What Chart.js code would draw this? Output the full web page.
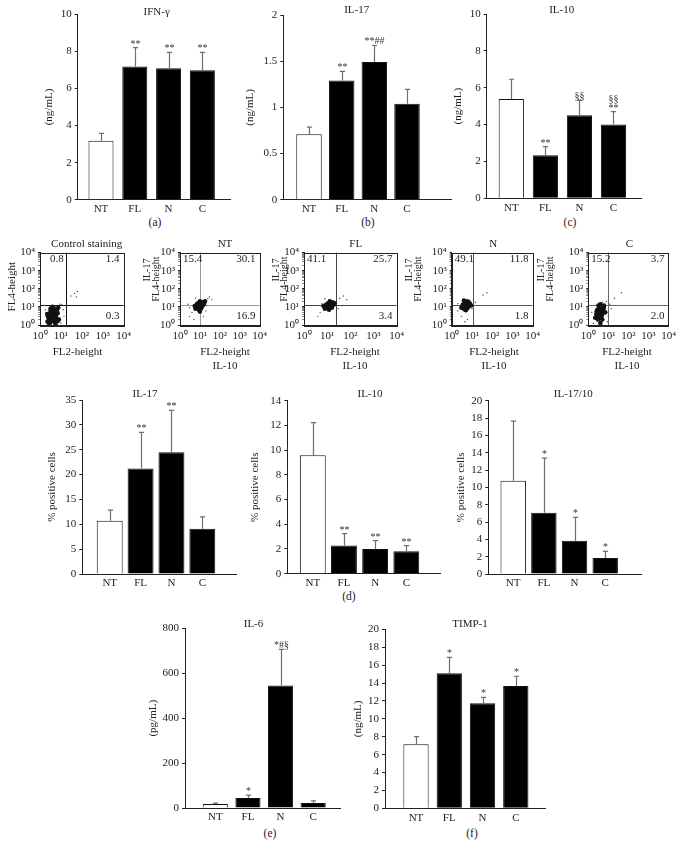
<!DOCTYPE html>
<html><head><meta charset="utf-8"><title>Cytokine panels</title>
<script src="https://cdn.jsdelivr.net/npm/chart.js@4.4.1/dist/chart.umd.min.js"></script>
<style>
html,body{margin:0;padding:0;background:#fff;}
body{position:relative;width:683px;height:845px;overflow:hidden;}
canvas{position:absolute;}
.plab{position:absolute;font:11.5px 'Liberation Serif','Times New Roman',serif;color:#222;transform:translate(-50%,-50%);white-space:nowrap;}
</style></head><body>
<div class="plab" style="left:155px;top:222px">(a)</div>
<div class="plab" style="left:368px;top:222px">(b)</div>
<div class="plab" style="left:570px;top:222px">(c)</div>
<div class="plab" style="left:349px;top:596px">(d)</div>
<div class="plab" style="left:270px;top:833px">(e)</div>
<div class="plab" style="left:472px;top:833px">(f)</div>
<script>
// ---------------- data ----------------
const groups = ['NT', 'FL', 'N', 'C'];

// (a) IFN-γ, ng/mL
const ifnMean = [3.18, 7.19, 7.09, 6.98];
const ifnErr  = [0.40, 1.01, 0.86, 0.97];
const ifnSig  = ['', '**', '**', '**'];
// (b) IL-17, ng/mL
const il17Mean = [0.71, 1.29, 1.49, 1.04];
const il17Err  = [0.075, 0.10, 0.18, 0.155];
const il17Sig  = ['', '**', '**##', ''];
// (c) IL-10, ng/mL
const il10Mean = [5.39, 2.33, 4.50, 4.01];
const il10Err  = [1.07, 0.47, 0.83, 0.69];
const il10Sig  = ['', '**', '§§', '§§\n**'];
// (d) % positive cells
const pct17Mean = [10.7, 21.2, 24.5, 9.1];
const pct17Err  = [2.15, 7.3, 8.4, 2.4];
const pct17Sig  = ['', '**', '**', ''];
const pct10Mean = [9.58, 2.29, 2.0, 1.81];
const pct10Err  = [2.64, 0.95, 0.67, 0.46];
const pct10Sig  = ['', '**', '**', '**'];
const ratioMean = [10.77, 7.08, 3.85, 1.85];
const ratioErr  = [6.88, 6.3, 2.69, 0.77];
const ratioSig  = ['', '*', '*', '*'];
// (e) IL-6, pg/mL
const il6Mean = [18, 45, 546, 22];
const il6Err  = [4, 12, 161, 10];
const il6Sig  = ['', '*', '*#§', ''];
// (f) TIMP-1, ng/mL
const timpMean = [7.16, 15.09, 11.74, 13.68];
const timpErr  = [0.85, 1.79, 0.67, 1.08];
const timpSig  = ['', '*', '*', '*'];

// flow cytometry dot plots
const logTicks = [1, 10, 100, 1000, 10000];
const logTickLabels = ['10\u2070', '10\u00b9', '10\u00b2', '10\u00b3', '10\u2074'];
const flowTitles = ['Control staining', 'NT', 'FL', 'N', 'C'];
const quadPct = [[0.8, 1.4, 0.3], [15.4, 30.1, 16.9], [41.1, 25.7, 3.4], [49.1, 11.8, 1.8], [15.2, 3.7, 2.0]];
const gateX = [17.5, 10.7, 25, 11, 9.4];
const gateY = [12.6, 12.6, 12.6, 12.6, 12.6];

const ctrlCore = [[3,3],[4,2],[5,3.5],[3.5,5],[6,2.5],[2.6,2.2],[4.5,6.5],[7,4.5],[3,1.4],[5,1.5],[2.2,4],[4,4],[6.5,7],[3.2,8],[8,2],[2.8,1.1],[5.5,1.1],[4,10],[7.5,9],
  [3.5,2.5],[4.5,2.8],[5.5,5],[3.8,3.6],[2.4,3],[6,4],[4.2,1.6],[3.3,6.5],[5,8],[2.3,1.5],[6.8,1.6],[3,4.5],[4.5,5.5]];
const ctrlSparse = [[11,13],[13,7],[2,1.8],[1.8,7],[9,14],[30,40],[45,55],[60,70],[55,35],[14,3],[1.5,12],[10,1.3]];
const ntCore = [[9,12],[7,10],[11,14],[8,16],[12,9],[6,8],[10,20],[14,12],[9,7],[7,14],[13,18],[5.5,11],[11,10],[16,15],[8,9],[10,5.5],[18,20],
  [9,11],[10,13],[8,13],[12,12],[9,16],[11,8],[7,12],[13,14],[10,10],[6.5,9.5],[12,16],[8.5,8.5]];
const ntSparse = [[25,28],[30,35],[22,12],[4,5],[3,3],[5,2],[3,9],[20,6],[6,30],[40,25],[2.5,14],[15,3]];
const flCore = [[12,12],[9,10],[15,14],[11,16],[16,9],[8,8],[13,20],[19,13],[12,7],[10,14],[17,18],[7,11],[14,10],[21,16],[10,9],
  [11,12],[13,13],[10,11],[12,15],[14,12],[9,13],[15,16],[11,9],[16,12],[13,10]];
const flSparse = [[35,30],[50,40],[70,25],[5,5],[4,3],[30,8],[8,28],[6,15],[25,4],[45,12]];
const nCore = [[5,12],[4,10],[6,14],[4.5,16],[7,11],[3.5,13],[5.5,8],[8,15],[6,20],[3,9],[9,12],[5,6.5],[7,18],[4,22],
  [5,11],[6,12],[4.5,13],[5.5,15],[6.5,10],[4,12],[5,17],[7,14],[6,9],[4.2,7.5]];
const nSparse = [[12,25],[35,45],[55,60],[2,6],[3,3],[10,8],[2,15],[15,18],[6,2],[4.5,1.5]];
const cCore = [[3.5,5],[4,7],[3,3.5],[5,6],[2.5,4],[4.5,3],[6,9],[3.5,10],[5,2],[3,2],[7,5],[2.8,7],[4,14],[6,12],[2.2,2.5],[4,1.3],
  [3.8,4.5],[4.5,6],[3.2,5.5],[5,4],[3,4.5],[4,8],[5.5,7],[3.5,3],[4,2.5],[3.2,12],[2.6,5.5]];
const cSparse = [[12,14],[20,30],[45,60],[10,3],[1.5,5],[8,20],[1.8,1.2],[14,8],[5,18],[9,1.5]];

// ---------------- rendering ----------------
const SERIF = "'Liberation Serif','Times New Roman',serif";
Chart.defaults.font.family = SERIF;
Chart.defaults.font.size = 11;
Chart.defaults.color = '#222';
Chart.defaults.animation = false;
Chart.defaults.events = [];
Chart.defaults.plugins.legend.display = false;
Chart.defaults.plugins.tooltip.enabled = false;

function mkCanvas(L, T, W, H) {
  const c = document.createElement('canvas');
  c.width = W; c.height = H;
  c.style.left = L + 'px'; c.style.top = T + 'px';
  c.style.width = W + 'px'; c.style.height = H + 'px';
  document.body.appendChild(c);
  return c;
}

const pageText = {
  id: 'pageText',
  afterDraw(chart, a, o) {
    if (!o.items) return;
    const ctx = chart.ctx;
    o.items.forEach(it => {
      ctx.save();
      ctx.font = (it.size || 11) + 'px ' + SERIF;
      ctx.fillStyle = it.color || '#222';
      ctx.textAlign = it.align || 'center';
      ctx.textBaseline = 'middle';
      ctx.translate(it.x - o.ox, it.y - o.oy);
      if (it.rot) ctx.rotate(-Math.PI / 2);
      ctx.fillText(it.text, 0, 0);
      ctx.restore();
    });
  }
};

const errBars = {
  id: 'errBars',
  afterDatasetsDraw(chart, a, o) {
    if (!o.err) return;
    const ctx = chart.ctx, ys = chart.scales.y, meta = chart.getDatasetMeta(0);
    const vals = chart.data.datasets[0].data;
    ctx.save();
    meta.data.forEach((bar, i) => {
      const yt = ys.getPixelForValue(vals[i].y + o.err[i]);
      const x = Math.round(bar.x) + 0.5;
      ctx.strokeStyle = '#6f6f6f'; ctx.lineWidth = 1.2;
      ctx.beginPath();
      ctx.moveTo(x, bar.y); ctx.lineTo(x, yt);
      ctx.moveTo(x - 2.6, yt); ctx.lineTo(x + 2.6, yt);
      ctx.stroke();
      const lines = (o.sig[i] || '').split('\n').filter(s => s);
      ctx.fillStyle = '#333'; ctx.font = '10px ' + SERIF;
      ctx.textAlign = 'center'; ctx.textBaseline = 'alphabetic';
      for (let k = 0; k < lines.length; k++) ctx.fillText(lines[lines.length - 1 - k], x, yt - 1 - k * 9);
    });
    ctx.restore();
  }
};

function barPanel(p) {
  const L = Math.round(p.axisX - 42), T = Math.round(p.top - 20);
  const W = Math.round(p.right + 4 - L), H = Math.round(p.bottom + 22 - T);
  const cv = mkCanvas(L, T, W, H);
  const yw = p.axisX - L, xh = (T + H) - p.bottom;
  new Chart(cv, {
    type: 'bar',
    data: {
      datasets: [{
        data: groups.map((g, i) => ({ x: i, y: p.mean[i] })),
        backgroundColor: groups.map((g, i) => i === 0 ? '#ffffff' : '#000000'),
        borderColor: '#111', borderWidth: 1,
        categoryPercentage: 1, barPercentage: p.barPct
      }]
    },
    options: {
      responsive: false, devicePixelRatio: 1, animation: false,
      layout: { padding: { left: 0, top: p.top - T, right: (L + W) - p.right, bottom: 0 } },
      scales: {
        x: {
          type: 'linear', min: p.xmin, max: p.xmax, offset: false,
          grid: { display: false, drawTicks: false },
          border: { display: true, color: '#222', width: 1 },
          ticks: { stepSize: 1, includeBounds: false, autoSkip: false, maxRotation: 0, padding: 3,
                   callback: v => (groups[v] !== undefined ? groups[v] : '') },
          afterFit: s => { s.height = xh; }
        },
        y: {
          min: 0, max: p.ymax,
          ticks: { stepSize: p.ystep, padding: 3, callback: v => String(+v.toFixed(2)) },
          grid: { display: true, drawOnChartArea: false, drawTicks: true, tickLength: 3, color: '#222' },
          border: { display: true, color: '#222', width: 1 },
          title: { display: true, text: p.ylab, font: { size: 11 }, padding: { top: p.ylabX - L - 6.6, bottom: 0 } },
          afterFit: s => { s.width = yw; }
        }
      },
      plugins: {
        errBars: { err: p.err, sig: p.sig },
        pageText: { ox: L, oy: T, items: [{ text: p.title, x: p.titleX, y: p.titleY }] }
      }
    },
    plugins: [errBars, pageText]
  });
}

const flowDeco = {
  id: 'flowDeco',
  beforeDatasetsDraw(chart, a, o) {
    if (o.qx == null) return;
    const { ctx, chartArea: ca, scales: { x, y } } = chart;
    const px = Math.round(x.getPixelForValue(o.qx)) + 0.5, py = Math.round(y.getPixelForValue(o.qy)) + 0.5;
    ctx.save(); ctx.strokeStyle = o.lineColor; ctx.lineWidth = 1;
    ctx.beginPath();
    ctx.moveTo(px, ca.top); ctx.lineTo(px, ca.bottom);
    ctx.moveTo(ca.left, py); ctx.lineTo(ca.right, py);
    ctx.stroke(); ctx.restore();
  },
  afterDraw(chart, a, o) {
    if (o.qx == null) return;
    const { ctx, chartArea: ca } = chart;
    ctx.save(); ctx.strokeStyle = '#222'; ctx.lineWidth = 1;
    ctx.strokeRect(Math.round(ca.left) + 0.5, Math.round(ca.top) + 0.5, Math.round(ca.right - ca.left), Math.round(ca.bottom - ca.top));
    ctx.font = '11px ' + SERIF; ctx.fillStyle = '#222'; ctx.textBaseline = 'middle';
    ctx.textAlign = 'left'; ctx.fillText(o.nums[0].toFixed(1), ca.left + o.tlDx, ca.top + 7);
    ctx.textAlign = 'right'; ctx.fillText(o.nums[1].toFixed(1), ca.right - 4, ca.top + 7);
    ctx.fillText(o.nums[2].toFixed(1), ca.right - 4, ca.bottom - 9);
    ctx.restore();
  }
};

const minorTicks = [];
logTicks.forEach(d => { for (let m = 1; m <= 9; m++) { if (d * m <= 10000) minorTicks.push(d * m); } });
const logLab = v => { const i = logTicks.indexOf(v); return i >= 0 ? logTickLabels[i] : ''; };
const logGridCol = c => (c.tick && logTicks.includes(c.tick.value)) ? '#222' : '#888';

function flowPanel(p) {
  const b = p.box;
  const L = Math.round(b.l - 58), T = Math.round(b.t - 16);
  const W = Math.round(b.r + 8 - L), H = Math.round(378 - T);
  const cv = mkCanvas(L, T, W, H);
  const yw = b.l - L, xh = (T + H) - b.b;
  const logAxis = (extra) => Object.assign({
    type: 'logarithmic', min: 1, max: 10000,
    afterBuildTicks: s => { s.ticks = minorTicks.map(v => ({ value: v })); },
    ticks: { callback: logLab, autoSkip: false, maxRotation: 0, font: { size: 11 } },
    grid: { display: true, drawOnChartArea: false, drawTicks: true, tickLength: 2, color: logGridCol },
    border: { display: true, color: '#222', width: 1 }
  }, extra);
  new Chart(cv, {
    type: 'scatter',
    data: {
      datasets: [
        { data: p.core.map(([x, y]) => ({ x, y })), pointRadius: 2.3, pointBackgroundColor: '#111', pointBorderWidth: 0 },
        { data: p.sparse.map(([x, y]) => ({ x, y })), pointRadius: 0.7, pointBackgroundColor: '#444', pointBorderWidth: 0 }
      ]
    },
    options: {
      responsive: false, devicePixelRatio: 1, animation: false,
      layout: { padding: { left: 0, top: b.t - T, right: (L + W) - b.r, bottom: 0 } },
      scales: {
        x: logAxis({ afterFit: s => { s.height = xh; } }),
        y: logAxis({ afterFit: s => { s.width = yw; } })
      },
      plugins: {
        flowDeco: { qx: p.qx, qy: p.qy, lineColor: p.lineColor, nums: p.nums, tlDx: p.tlDx },
        pageText: { ox: L, oy: T, items: p.items }
      }
    },
    plugins: [flowDeco, pageText]
  });
}

// ---- top row ----
barPanel({ axisX: 77.7, top: 14.3, bottom: 199.7, right: 230, xmin: -0.689, xmax: 3.817, barPct: 0.74,
  ymax: 10, ystep: 2, mean: ifnMean, err: ifnErr, sig: ifnSig, title: 'IFN-\u03b3', titleX: 156.7, titleY: 12, ylab: '(ng/mL)', ylabX: 49 });
barPanel({ axisX: 283.3, top: 15, bottom: 199.7, right: 451.7, xmin: -0.787, xmax: 4.368, barPct: 0.78,
  ymax: 2, ystep: 0.5, mean: il17Mean, err: il17Err, sig: il17Sig, title: 'IL-17', titleX: 356.7, titleY: 10.5, ylab: '(ng/mL)', ylabX: 250 });
barPanel({ axisX: 486.7, top: 14, bottom: 198.3, right: 641.7, xmin: -0.722, xmax: 3.828, barPct: 0.74,
  ymax: 10, ystep: 2, mean: il10Mean, err: il10Err, sig: il10Sig, title: 'IL-10', titleX: 561.7, titleY: 10.5, ylab: '(ng/mL)', ylabX: 458.3 });

// ---- flow row ----
const flowBoxes = [
  { l: 40, r: 126, t: 252.5, b: 325 },
  { l: 180, r: 261.7, t: 252.5, b: 325 },
  { l: 304, r: 399.3, t: 252.5, b: 325 },
  { l: 451.7, r: 535, t: 252.5, b: 325 },
  { l: 588.3, r: 670.7, t: 252.5, b: 325 }
];
const flowDots = [[ctrlCore, ctrlSparse], [ntCore, ntSparse], [flCore, flSparse], [nCore, nSparse], [cCore, cSparse]];
const flowLine = ['#111', '#999', '#444', '#555', '#666'];
const flowTitleX = [86.7, 225, 355.7, 493.3, 629.3];
const flowYlabX = [null, 147.5, 276, 409.5, 541.5];
const flowXlabX = [77.5, 225, 355, 494, 627];
flowBoxes.forEach((box, k) => {
  const items = [{ text: flowTitles[k], x: flowTitleX[k], y: 244 }];
  if (k === 0) {
    items.push({ text: 'FL4-height', x: 11.7, y: 286.7, rot: true });
    items.push({ text: 'FL2-height', x: flowXlabX[k], y: 351.7 });
  } else {
    items.push({ text: 'IL-17', x: flowYlabX[k], y: 270, rot: true, size: 10 });
    items.push({ text: 'FL4-height', x: flowYlabX[k] + 8.5, y: 279, rot: true, size: 10 });
    items.push({ text: 'FL2-height', x: flowXlabX[k], y: 351.7 });
    items.push({ text: 'IL-10', x: flowXlabX[k], y: 366 });
  }
  flowPanel({ box, core: flowDots[k][0], sparse: flowDots[k][1], qx: gateX[k], qy: gateY[k],
    lineColor: flowLine[k], nums: quadPct[k], tlDx: k === 0 ? 10 : 3, items });
});

// ---- row d ----
barPanel({ axisX: 82.3, top: 400, bottom: 574, right: 236.7, xmin: -0.888, xmax: 4.114, barPct: 0.84,
  ymax: 35, ystep: 5, mean: pct17Mean, err: pct17Err, sig: pct17Sig, title: 'IL-17', titleX: 145, titleY: 394, ylab: '% positive cells', ylabX: 51.7 });
barPanel({ axisX: 287.3, top: 400.7, bottom: 573.7, right: 440, xmin: -0.818, xmax: 4.081, barPct: 0.83,
  ymax: 14, ystep: 2, mean: pct10Mean, err: pct10Err, sig: pct10Sig, title: 'IL-10', titleX: 370, titleY: 394, ylab: '% positive cells', ylabX: 255 });
barPanel({ axisX: 488.3, top: 400.7, bottom: 574, right: 641.7, xmin: -0.812, xmax: 4.19, barPct: 0.83,
  ymax: 20, ystep: 2, mean: ratioMean, err: ratioErr, sig: ratioSig, title: 'IL-17/10', titleX: 573.3, titleY: 394, ylab: '% positive cells', ylabX: 461 });

// ---- row e/f ----
barPanel({ axisX: 185, top: 628.5, bottom: 808, right: 340.7, xmin: -0.929, xmax: 3.843, barPct: 0.77,
  ymax: 800, ystep: 200, mean: il6Mean, err: il6Err, sig: il6Sig, title: 'IL-6', titleX: 253.5, titleY: 624.5, ylab: '(pg/mL)', ylabX: 153 });
barPanel({ axisX: 385, top: 629.4, bottom: 808.3, right: 545, xmin: -0.932, xmax: 3.878, barPct: 0.76,
  ymax: 20, ystep: 2, mean: timpMean, err: timpErr, sig: timpSig, title: 'TIMP-1', titleX: 470, titleY: 624.5, ylab: '(ng/mL)', ylabX: 358.3 });
</script>
</body></html>
